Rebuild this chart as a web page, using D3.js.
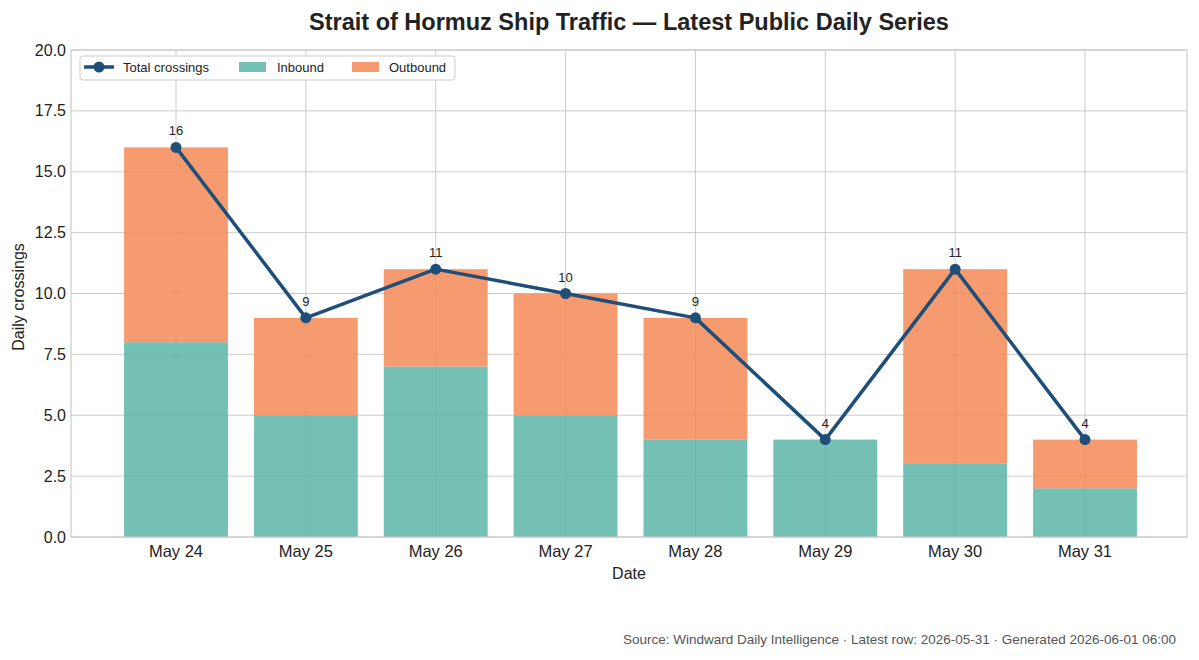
<!DOCTYPE html>
<html><head><meta charset="utf-8">
<script src="https://cdn.jsdelivr.net/npm/d3@7"></script>
<style>body{margin:0;background:#fff;}svg{display:block;font-family:"Liberation Sans",Arial,sans-serif;}</style>
</head><body><svg id="c" width="1199" height="660"></svg>
<script>
const dates = ["May 24","May 25","May 26","May 27","May 28","May 29","May 30","May 31"];
const inbound = [8,5,7,5,4,4,3,2];
const outbound = [8,4,4,5,5,0,8,2];
const totals = [16,9,11,10,9,4,11,4];
const yTicks = [0,2.5,5,7.5,10,12.5,15,17.5,20];

const svg = d3.select("#c");
const L=71,R=1187,T=50,B=537;
const x = d3.scaleLinear().domain([0,7]).range([176,1085]);
const y = d3.scaleLinear().domain([0,20]).range([B,T]);
const bw = x(0.8)-x(0);
const gridC="#cccccc";

// grid
svg.append("g").selectAll("line").data(yTicks).join("line")
  .attr("x1",L).attr("x2",R).attr("y1",d=>y(d)).attr("y2",d=>y(d))
  .attr("stroke",gridC).attr("stroke-width",1);
svg.append("g").selectAll("line").data(dates).join("line")
  .attr("x1",(d,i)=>x(i)).attr("x2",(d,i)=>x(i)).attr("y1",T).attr("y2",B)
  .attr("stroke",gridC).attr("stroke-width",1);

// bars
const g = svg.append("g");
g.selectAll("rect.in").data(inbound).join("rect").attr("class","in")
  .attr("x",(d,i)=>x(i)-bw/2).attr("width",bw)
  .attr("y",d=>y(d)).attr("height",d=>y(0)-y(d))
  .attr("fill","#5cb5a7").attr("fill-opacity",0.85);
g.selectAll("rect.out").data(outbound).join("rect").attr("class","out")
  .attr("x",(d,i)=>x(i)-bw/2).attr("width",bw)
  .attr("y",(d,i)=>y(inbound[i]+d)).attr("height",(d,i)=>y(inbound[i])-y(inbound[i]+d))
  .attr("fill","#f48a57").attr("fill-opacity",0.85);

// frame
svg.append("rect").attr("x",L).attr("y",T).attr("width",R-L).attr("height",B-T)
  .attr("fill","none").attr("stroke","#cccccc").attr("stroke-width",1.2);

// line
const lineC="#1f4e79";
svg.append("path").datum(totals)
  .attr("d",d3.line().x((d,i)=>x(i)).y(d=>y(d)))
  .attr("fill","none").attr("stroke",lineC).attr("stroke-width",3.5).attr("stroke-linejoin","round");
svg.append("g").selectAll("circle").data(totals).join("circle")
  .attr("cx",(d,i)=>x(i)).attr("cy",d=>y(d)).attr("r",5.5).attr("fill",lineC);
svg.append("g").selectAll("text").data(totals).join("text")
  .attr("x",(d,i)=>x(i)).attr("y",d=>y(d)-12).attr("text-anchor","middle")
  .attr("font-size",13).attr("fill","#222").text(d=>d);

// axes labels
svg.append("g").selectAll("text").data(yTicks).join("text")
  .attr("x",L-5).attr("y",d=>y(d)).attr("dy","0.35em").attr("text-anchor","end")
  .attr("font-size",16).attr("fill","#222").text(d=>d.toFixed(1));
svg.append("g").selectAll("text").data(dates).join("text")
  .attr("x",(d,i)=>x(i)).attr("y",B+20).attr("text-anchor","middle")
  .attr("font-size",16.5).attr("fill","#222").text(d=>d);
svg.append("text").attr("x",629).attr("y",579).attr("text-anchor","middle")
  .attr("font-size",16).attr("fill","#222").text("Date");
svg.append("text").attr("transform",`translate(24,297) rotate(-90)`).attr("text-anchor","middle")
  .attr("font-size",16).attr("fill","#222").text("Daily crossings");

// title
svg.append("text").attr("x",629).attr("y",30).attr("text-anchor","middle")
  .attr("font-size",23.5).attr("font-weight","bold").attr("fill","#222")
  .text("Strait of Hormuz Ship Traffic — Latest Public Daily Series");

// footnote
svg.append("text").attr("x",1176).attr("y",644).attr("text-anchor","end")
  .attr("font-size",13.5).attr("fill","#555")
  .text("Source: Windward Daily Intelligence · Latest row: 2026-05-31 · Generated 2026-06-01 06:00");

// legend
const lg = svg.append("g");
lg.append("rect").attr("x",80).attr("y",56).attr("width",375).attr("height",24).attr("rx",3)
  .attr("fill","#fff").attr("fill-opacity",0.85).attr("stroke","#cccccc");
lg.append("line").attr("x1",84).attr("x2",114).attr("y1",67).attr("y2",67).attr("stroke",lineC).attr("stroke-width",3.5);
lg.append("circle").attr("cx",99).attr("cy",67).attr("r",5.5).attr("fill",lineC);
lg.append("text").attr("x",123).attr("y",67).attr("dy","0.35em").attr("font-size",13).attr("fill","#222").text("Total crossings");
lg.append("rect").attr("x",239).attr("y",62).attr("width",27).attr("height",10).attr("fill","#5cb5a7").attr("fill-opacity",0.85);
lg.append("text").attr("x",277).attr("y",67).attr("dy","0.35em").attr("font-size",13).attr("fill","#222").text("Inbound");
lg.append("rect").attr("x",352).attr("y",62).attr("width",27).attr("height",10).attr("fill","#f48a57").attr("fill-opacity",0.85);
lg.append("text").attr("x",389).attr("y",67).attr("dy","0.35em").attr("font-size",13).attr("fill","#222").text("Outbound");
</script></body></html>
